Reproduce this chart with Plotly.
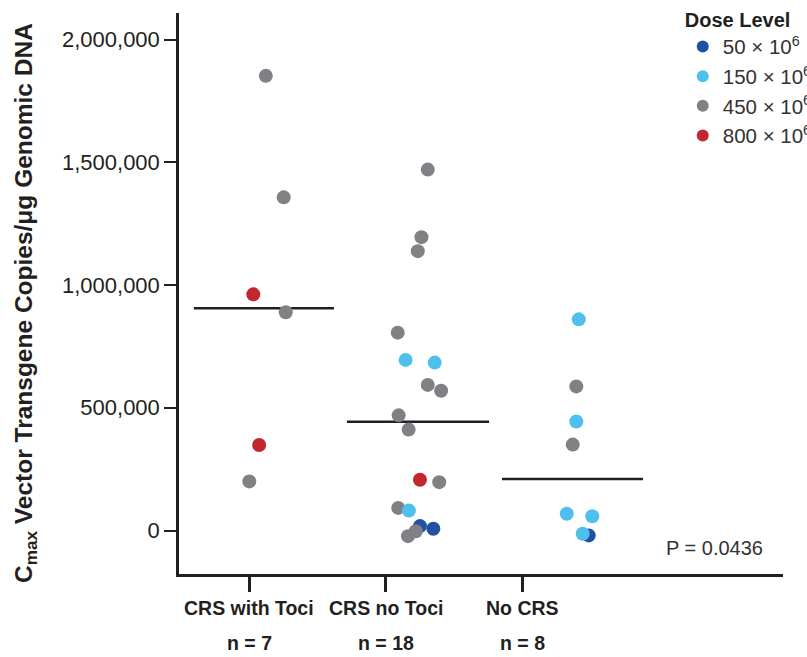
import plotly.graph_objects as go

# ---------------- data ----------------
groups = ["CRS with Toci", "CRS no Toci", "No CRS"]
group_n = ["n = 7", "n = 18", "n = 8"]

g1_values = [1852000, 1357000, 962000, 889000, 348000, 200000]
g1_doses = [450, 450, 800, 450, 800, 450]
g1_jitter = [0.120, 0.251, 0.028, 0.266, 0.071, -0.001]

g2_values = [1470000, 1195000, 1138000, 806000, 695000, 684000, 593000, 569000, 469000,
             411000, 207000, 197000, 92000, 81000, 18000, 7000, -3000, -23000]
g2_doses = [450, 450, 450, 450, 150, 150, 450, 450, 450,
            450, 800, 450, 450, 150, 50, 50, 450, 450]
g2_jitter = [0.306, 0.260, 0.233, 0.086, 0.144, 0.357, 0.306, 0.404, 0.093,
             0.166, 0.249, 0.390, 0.090, 0.168, 0.249, 0.347, 0.218, 0.161]

g3_values = [860000, 587000, 444000, 350000, 68000, 58000, -20000, -13000]
g3_doses = [150, 450, 150, 450, 150, 150, 50, 150]
g3_jitter = [0.412, 0.394, 0.394, 0.368, 0.324, 0.511, 0.485, 0.441]

medians = [905000, 443000, 210000]
median_start = [-0.407, -0.286, -0.150]
median_end = [0.619, 0.755, 0.883]

dose_levels = [50, 150, 450, 800]
dose_labels = ["50 × 10<sup>6</sup>", "150 × 10<sup>6</sup>", "450 × 10<sup>6</sup>", "800 × 10<sup>6</sup>"]
dose_colors = {50: "#2151a1", 150: "#4fc0ee", 450: "#808184", 800: "#c1272d"}
draw_order = [50, 450, 150, 800]

y_ticks = [0, 500000, 1000000, 1500000, 2000000]
p_text = "P = 0.0436"

FONT = "Liberation Sans, Arial, Helvetica, sans-serif"
INK = "#231f20"

# ---------------- build ----------------
all_groups = [(0, g1_values, g1_doses, g1_jitter),
              (1, g2_values, g2_doses, g2_jitter),
              (2, g3_values, g3_doses, g3_jitter)]

fig = go.Figure()

# median lines
for gi, (m, s, e) in enumerate(zip(medians, median_start, median_end)):
    fig.add_trace(go.Scatter(x=[gi + s, gi + e], y=[m, m], mode="lines",
                             line=dict(color=INK, width=2.5), showlegend=False,
                             hoverinfo="skip"))

for dose in draw_order:
    xs, ys = [], []
    for gi, vals, doses, jit in all_groups:
        for v, d, j in zip(vals, doses, jit):
            if d == dose:
                xs.append(gi + j)
                ys.append(v)
    idx = dose_levels.index(dose)
    fig.add_trace(go.Scatter(x=xs, y=ys, mode="markers", name=dose_labels[idx],
                             legendrank=idx + 1,
                             marker=dict(color=dose_colors[dose], size=14, line=dict(width=0))))

L, R, T, B = 179, 24, 13, 83
W, H = 807, 657

fig.update_layout(
    width=W, height=H,
    margin=dict(l=L, r=R, t=T, b=B, autoexpand=False),
    paper_bgcolor="white", plot_bgcolor="white",
    font=dict(family=FONT, color=INK),
    legend=dict(
        title=dict(text="<b>Dose Level</b>", font=dict(size=20, color=INK)),
        font=dict(size=20.5, color="#333333"),
        x=0.834, y=1.022, xanchor="left", yanchor="top",
        bgcolor="rgba(0,0,0,0)", itemsizing="constant",
        tracegroupgap=0,
    ),
    xaxis=dict(
        range=[-0.516, 3.908], tickvals=[0, 1, 2], showticklabels=False,
        ticks="outside", ticklen=15, tickwidth=2.5, tickcolor=INK,
        showline=True, linewidth=2.5, linecolor=INK, showgrid=False, zeroline=False,
    ),
    yaxis=dict(
        range=[-177200, 2108000], tickvals=y_ticks, tickformat=",d",
        ticks="outside", ticklen=12, tickwidth=2, tickcolor=INK,
        tickfont=dict(size=22, color=INK),
        showline=True, linewidth=2.5, linecolor=INK, showgrid=False, zeroline=False,
    ),
)

plot_w = W - L - R
plot_h = H - T - B

# x category labels
for gi, (name, n) in enumerate(zip(groups, group_n)):
    fig.add_annotation(x=gi, y=(574 - 608) / plot_h, xref="x", yref="paper",
                       text=f"<b>{name}</b>", showarrow=False, yanchor="middle",
                       font=dict(size=19.5, color=INK))
    fig.add_annotation(x=gi, y=(574 - 643) / plot_h, xref="x", yref="paper",
                       text=f"<b>{n}</b>", showarrow=False, yanchor="middle",
                       font=dict(size=19.5, color=INK))

# y axis title
fig.add_annotation(x=(26 - L) / plot_w, y=(574 - 303) / plot_h, xref="paper", yref="paper",
                   text="<b>C<sub>max</sub> Vector Transgene Copies/μg Genomic DNA</b>",
                   textangle=-90, showarrow=False, xanchor="center", yanchor="middle",
                   font=dict(size=24.5, color=INK))

# p value
fig.add_annotation(x=(714 - L) / plot_w, y=(574 - 548) / plot_h, xref="paper", yref="paper",
                   text=p_text, showarrow=False, xanchor="center", yanchor="middle",
                   font=dict(size=20, color="#333333"))

fig.write_html("out.html")
